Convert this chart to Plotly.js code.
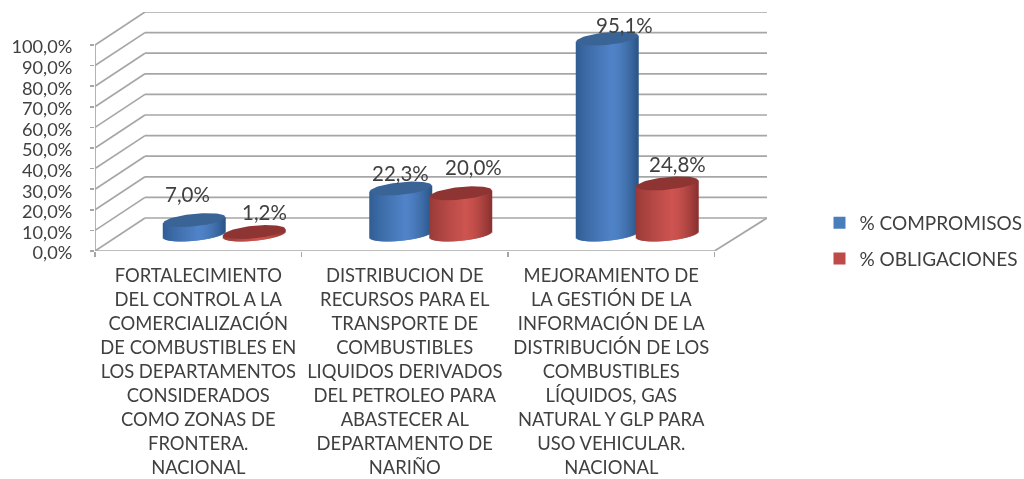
<!DOCTYPE html>
<html><head><meta charset="utf-8">
<script src="https://cdn.plot.ly/plotly-3.0.1.min.js"></script>
<style>html,body{margin:0;padding:0;background:#fff;overflow:hidden}#c{width:1024px;height:479px;filter:blur(0.55px)}</style>
</head><body><div id="c"></div>
<script>
// ---- data ----
const categoryLines = [
  ["FORTALECIMIENTO","DEL CONTROL A LA","COMERCIALIZACIÓN","DE COMBUSTIBLES EN","LOS DEPARTAMENTOS","CONSIDERADOS","COMO ZONAS DE","FRONTERA.","NACIONAL"],
  ["DISTRIBUCION DE","RECURSOS PARA EL","TRANSPORTE DE","COMBUSTIBLES","LIQUIDOS DERIVADOS","DEL PETROLEO PARA","ABASTECER AL","DEPARTAMENTO DE","NARIÑO"],
  ["MEJORAMIENTO DE","LA GESTIÓN DE LA","INFORMACIÓN DE LA","DISTRIBUCIÓN DE LOS","COMBUSTIBLES","LÍQUIDOS, GAS","NATURAL Y GLP PARA","USO VEHICULAR.","NACIONAL"]
];
const compromisos = [7.0, 22.3, 95.1];
const obligaciones = [1.2, 20.0, 24.8];
const yTicks = [0,10,20,30,40,50,60,70,80,90,100];
const seriesNames = ["% COMPROMISOS","% OBLIGACIONES"];

// ---- chart geometry (pixels of the drawing, converted to axis units) ----
const L=95, B=251, PXY=2.06, PXX=206.5, DX=52, DY=33, R=767, T=12;
const xu=p=>p/PXX, yu=p=>p/PXY;
const fmt=v=>v.toFixed(1).replace('.',',')+'%';
const GRID='#a6a6a6', TXT='#404040', FONT='Lato, Carlito, sans-serif';
const halfW=xu(31), ry=yu(6.3), shear=yu(3), baseY=yu(16.5), seriesDX=[-xu(30),xu(30)], STRIPS=62;

function mix(a,b,t){return 'rgb('+a.map((v,i)=>Math.round(v+(b[i]-v)*t)).join(',')+')';}
function shade(edgeL,mid,edgeR,t){
  const c=0.15;
  return t<c?mix(edgeL,mid,Math.pow((t+1)/(1+c),0.8)):mix(mid,edgeR,Math.pow((t-c)/(1-c),1.6));
}
const palettes=[
 {l:[48,92,145],m:[80,131,200],r:[44,86,135],top:'#3a6496',sw:'#4a7ebb'},
 {l:[150,58,56],m:[205,84,80],r:[138,50,48],top:'#8e3533',sw:'#be4b48'}
];
function cylinderTraces(values,s){
  const p=palettes[s], xs=[],bases=[],hs=[],cols=[];
  const sw=2*halfW/STRIPS;
  values.forEach((v,i)=>{
    const cx=i+0.5+xu(DX/2)+seriesDX[s];
    for(let k=0;k<STRIPS;k++){
      const t=-1+(k+0.5)*2/STRIPS;
      const b=baseY+shear*t-ry*Math.sqrt(1-t*t);
      xs.push(cx+t*halfW); bases.push(b);
      hs.push(v+ry*Math.sqrt(1-t*t)); cols.push(shade(p.l,p.m,p.r,t));
    }
  });
  const bar={type:'bar',x:xs,y:hs,base:bases,width:sw*2,marker:{color:cols,line:{width:0}},
    showlegend:false,hoverinfo:'skip'};
  const tops=values.map((v,i)=>{
    const cx=i+0.5+xu(DX/2)+seriesDX[s], ex=[],ey=[];
    for(let a=0;a<=72;a++){
      const th=a/72*2*Math.PI, t=Math.cos(th);
      ex.push(cx+t*halfW); ey.push(baseY+v+shear*t+ry*Math.sin(th));
    }
    return {type:'scatter',mode:'lines',x:ex,y:ey,fill:'toself',fillcolor:p.top,
      line:{width:0,color:p.top},showlegend:false,hoverinfo:'skip'};
  });
  const key={type:'bar',x:[null],y:[null],name:seriesNames[s],marker:{color:p.sw},
    legendgroup:'g'+s,showlegend:true,hoverinfo:'skip'};
  return [bar,...tops,key];
}

// ---- walls ----
const shapes=[];
const line=(x0,y0,x1,y1)=>({type:'line',layer:'below',xref:'x',yref:'y',x0,y0,x1,y1,line:{color:GRID,width:1.7}});
const backX=xu(DX-2), backY=yu(DY), xEnd=(R-L)/PXX, frontEnd=3;
yTicks.forEach(v=>{
  shapes.push(line(0,v,backX,v+backY));
  shapes.push(line(backX,v+backY,xEnd,v+backY));
});
shapes.push(line(0,0,0,100));
shapes.push(line(0,0,frontEnd,0));
shapes.push(line(frontEnd,0,xEnd,backY));

// ---- value labels: offsets from the cylinder top, in pixels ----
const labelShift=[[[-7,-26],[0,-16],[17,-14]],[[10,-20],[13,-26],[10,-19]]];
const annotations=[];
[compromisos,obligaciones].forEach((vals,s)=>vals.forEach((v,i)=>{
  annotations.push({xref:'x',yref:'y',x:i+0.5+xu(DX/2)+seriesDX[s],y:baseY+v,text:fmt(v),showarrow:false,
    xanchor:'center',yanchor:'middle',xshift:labelShift[s][i][0],yshift:-labelShift[s][i][1],
    font:{family:FONT,size:20.5,color:TXT}});
}));

const data=[...cylinderTraces(compromisos,0),...cylinderTraces(obligaciones,1)];
const layout={
  width:1024,height:479,paper_bgcolor:'#fff',plot_bgcolor:'#fff',
  margin:{l:L,r:1024-R,t:T,b:479-B,pad:0,autoexpand:false},
  barmode:'overlay',
  xaxis:{range:[0,xEnd],showgrid:false,zeroline:false,showline:false,ticks:'',fixedrange:true,
    tickmode:'array',tickvals:[0.5,1.5,2.5],ticktext:categoryLines.map(l=>l.join('<br>')),tickangle:0,automargin:false,
    ticklabelstandoff:12,tickfont:{family:FONT,size:18.4,color:TXT},
    minor:{tickmode:'array',tickvals:[0,1,2,3],ticks:'outside',ticklen:5,tickcolor:GRID,tickwidth:1.5,showgrid:false}},
  yaxis:{range:[0,(B-T)/PXY],showgrid:false,zeroline:false,showline:false,fixedrange:true,
    tickmode:'array',tickvals:yTicks,ticktext:yTicks.map(fmt),ticks:'outside',ticklen:4,tickcolor:GRID,tickwidth:1.5,
    ticklabelstandoff:14,ticklabelshift:2,tickfont:{family:FONT,size:18.2,color:TXT}},
  shapes,annotations,
  legend:{x:(828.5-L)/(R-L),y:(B-204)/(B-T),xanchor:'left',yanchor:'top',traceorder:'grouped',tracegroupgap:8,
    indentation:-9,bgcolor:'rgba(0,0,0,0)',borderwidth:0,font:{family:FONT,size:19,color:TXT}}
};
Plotly.newPlot('c',data,layout,{displayModeBar:false,staticPlot:true});
</script></body></html>
